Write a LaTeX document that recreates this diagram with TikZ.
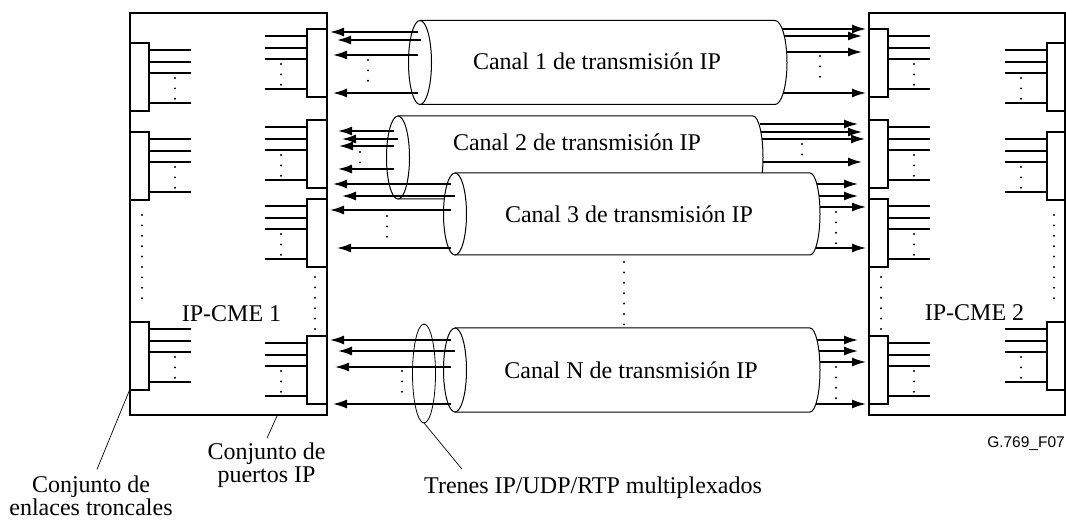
\documentclass[tikz,border=0pt]{standalone}
\usepackage{fontspec}
\setmainfont{Liberation Serif}
\newfontfamily\sansfig{Liberation Sans}
\usetikzlibrary{arrows.meta,calc}
\tikzset{
  marco/.style={draw, line width=1.2pt, fill=white},
  hilo/.style={line width=1.2pt},
  flecha/.style={line width=1.5pt, -{Latex[length=14pt,width=9pt]}},
  tubo/.style={draw, line width=1pt, fill=white},
  guia/.style={line width=0.7pt},
  rotulo/.style={font=\fontsize{24}{24}\selectfont, inner sep=0pt},
}
\newcommand{\puntos}[3]{\foreach \k in {1,...,#3} \fill (#1,{#2+(\k-1)*10.4}) circle[radius=1.1];}
\newcommand{\conjunto}[6]{%
  \draw[marco] (#1,#3) rectangle (#2,#3+68);
  \foreach \yy in {7,19,30,60} \draw[hilo] (#4,#3+\yy) -- (#5,#3+\yy);
  \puntos{#6}{#3+35}{3}}
\newcommand{\canal}[5]{%
  \path[tubo] (#1,#3-#4) -- (#2,#3-#4) arc[start angle=-90, end angle=90, x radius=#5, y radius=#4] -- (#1,#3+#4);
  \draw[tubo] (#1,#3) ellipse[x radius=11.5, y radius=#4];}

\begin{document}
\begin{tikzpicture}[x=1pt,y=-1pt]
\useasboundingbox (0,0) rectangle (1066,521);
\draw[marco] (130,13) rectangle (327,415);
\draw[marco] (869,13) rectangle (1065,415);
\foreach \t in {43,132,322} {
  \conjunto{130}{149}{\t}{149}{191}{175}
  \conjunto{1047}{1065}{\t}{1005}{1047}{1021}}
\foreach \t in {29,120,199,336} {
  \conjunto{307}{327}{\t}{265}{307}{281}
  \conjunto{869}{888}{\t}{888}{930}{914}}
\puntos{142}{215}{9}
\puntos{315}{277}{6}
\puntos{1054}{215}{9}
\puntos{881}{277}{6}

\canal{420}{775}{62.5}{42}{12}
\node[rotulo, anchor=base] (can1) at (597,70) {Canal 1 de transmisión IP};
\foreach \ya/\xa/\xb in {32/418/330, 40/421/337, 55/418/333, 93/418/333} \draw[flecha] (\xa,\ya) -- (\xb,\ya);
\foreach \ya/\xa/\xb in {29/782/866, 36/784/862, 52/786/862, 93/783/866} \draw[flecha] (\xa,\ya) -- (\xb,\ya);
\puntos{368}{60}{3}
\puntos{820}{56}{3}

\canal{398}{753}{157.5}{41.5}{10}
\node[rotulo, anchor=base] (can2) at (577,151) {Canal 2 de transmisión IP};
\foreach \ya/\xa/\xb in {131/394/338, 139/398/342, 146/394/339, 169/394/338} \draw[flecha] (\xa,\ya) -- (\xb,\ya);
\foreach \ya/\xa/\xb in {124/760/858, 132/761/862, 139/762/865, 162/763/862} \draw[flecha] (\xa,\ya) -- (\xb,\ya);
\puntos{360}{152}{2}
\puntos{802}{144}{2}

\canal{455}{810}{214}{41}{10}
\node[rotulo, anchor=base] (can3) at (629,223) {Canal 3 de transmisión IP};
\foreach \ya/\xa/\xb in {184/451/333, 196/455/342, 210/451/330, 248/451/337} \draw[flecha] (\xa,\ya) -- (\xb,\ya);
\foreach \ya/\xa/\xb in {184/817/858, 196/819/858, 207/820/866, 248/816/866} \draw[flecha] (\xa,\ya) -- (\xb,\ya);
\puntos{387}{216}{3}
\puntos{836}{212}{4}

\puntos{624}{262}{7}

\canal{455}{810}{370}{42}{10}
\node[rotulo, anchor=base] (canN) at (631,378.5) {Canal N de transmisión IP};
\draw[line width=0.8pt] (424,373.5) ellipse[x radius=11.5, y radius=49.5];
\coordinate (trenA) at (424,423);
\foreach \ya/\xa/\xb in {340/451/330, 351/455/338, 367/451/335, 404/451/333} \draw[flecha] (\xa,\ya) -- (\xb,\ya);
\foreach \ya/\xa/\xb in {340/817/858, 351/819/858, 362/820/866, 404/816/866} \draw[flecha] (\xa,\ya) -- (\xb,\ya);
\puntos{402}{371}{3}
\puntos{836}{367}{4}

\node[rotulo, anchor=base] (cme1) at (231.5,322) {IP-CME 1};
\node[rotulo, anchor=base] (cme2) at (974.5,321) {IP-CME 2};
\node[rotulo, anchor=base, align=center, font=\fontsize{24}{23}\selectfont] (puertos) at (266.5,482) {Conjunto de\\puertos IP};
\node[rotulo, anchor=base, align=center, font=\fontsize{24}{20}\selectfont] (enlaces) at (91,515) {Conjunto de\\enlaces troncales};
\node[rotulo, anchor=base west] (trenes) at (424,493) {Trenes IP/UDP/RTP multiplexados};
\node[anchor=base east, inner sep=0pt, font=\sansfig\fontsize{15.5}{16}\selectfont] (ref) at (1065,447) {G.769\_F07};
\coordinate (troncal) at (130,389);
\coordinate (puerto) at (277,416);
\draw[guia] (troncal) -- ($(enlaces.north)+(6,-6)$);
\draw[guia] (puerto) -- ($(puertos.north)+(0.5,-4)$);
\draw[guia] (trenA) -- ($(trenes.north west)+(38,-7)$);
\end{tikzpicture}
\end{document}
